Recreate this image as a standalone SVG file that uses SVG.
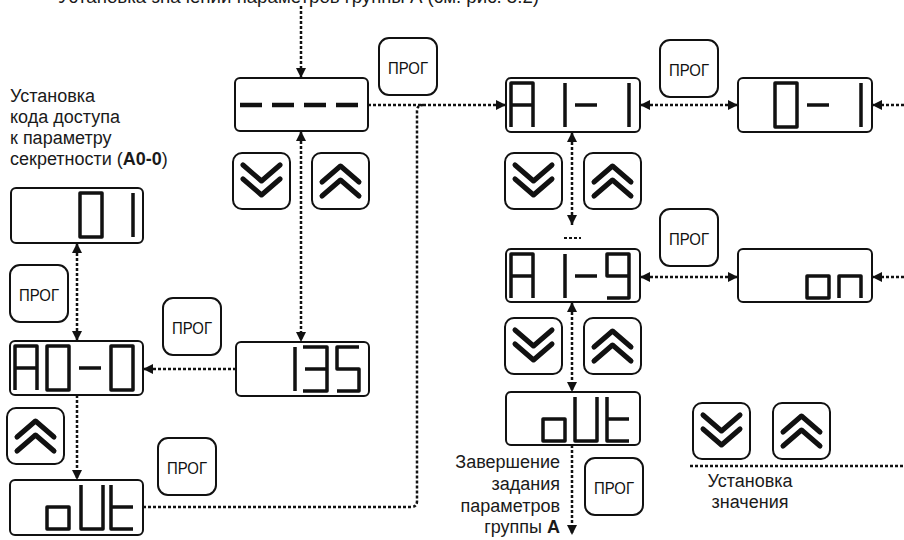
<svg xmlns="http://www.w3.org/2000/svg" xmlns:xlink="http://www.w3.org/1999/xlink" width="904" height="540" viewBox="0 0 904 540">
<style>
.box{fill:#fff;stroke:#111;stroke-width:2}
.btn{fill:#fff;stroke:#111;stroke-width:2}
.seg{fill:none;stroke:#111;stroke-width:3.5;stroke-linejoin:round;stroke-linecap:butt}
.dash{fill:none;stroke:#111;stroke-width:4.5}
.chev{fill:none;stroke:#111;stroke-width:5;stroke-linecap:round;stroke-linejoin:round}
.prog{font-family:"Liberation Sans",Arial,sans-serif;font-size:17px;fill:#111;text-anchor:middle}
.lbl{font-family:"Liberation Sans",Arial,sans-serif;font-size:18px;fill:#1a1a1a}
.con{fill:none;stroke:#111;stroke-width:2.5;stroke-dasharray:3 2}
</style>
<defs>
<marker id="ah" viewBox="0 0 10 10" refX="10" refY="5" markerWidth="12" markerHeight="10" markerUnits="userSpaceOnUse" orient="auto-start-reverse">
<path d="M0,0 L10,5 L0,10 z" fill="#111"/>
</marker>
<g id="bProg">
<rect class="btn" x="0" y="0" width="58" height="57" rx="10"/>
<text class="prog" x="29" y="36" textLength="40" lengthAdjust="spacingAndGlyphs">ПРОГ</text>
</g>
<g id="bDown">
<rect class="btn" x="0" y="0" width="57" height="56" rx="9"/>
<path class="chev" d="M10 12 L28.5 28 L47 12 M10 26 L28.5 42 L47 26"/>
</g>
<g id="bUp">
<rect class="btn" x="0" y="0" width="57" height="56" rx="9"/>
<path class="chev" d="M10 29 L28.5 13 L47 29 M10 43 L28.5 27 L47 43"/>
</g>
</defs>
<rect width="904" height="540" fill="#fff"/>

<text class="lbl" x="58" y="3" textLength="481" lengthAdjust="spacingAndGlyphs">Установка значений параметров группы А (см. рис. 5.2)</text>

<g id="connectors">
<path class="con" d="M301 6 V78" marker-end="url(#ah)"/>
<path class="con" d="M301 131 V342" marker-start="url(#ah)" marker-end="url(#ah)"/>
<path class="con" d="M236 369 H143" marker-end="url(#ah)"/>
<path class="con" d="M77 243 V341" marker-start="url(#ah)" marker-end="url(#ah)"/>
<path class="con" d="M77 395 V480" marker-end="url(#ah)"/>
<path class="con" d="M143 507 H411 Q417 507 417 501 V111 Q417 105 423 105"/>
<path class="con" d="M368 105 H506" marker-end="url(#ah)"/>
<path class="con" d="M640 105 H738" marker-start="url(#ah)" marker-end="url(#ah)"/>
<path class="con" d="M904 105 H872" marker-end="url(#ah)"/>
<path class="con" d="M572 132 V225" marker-start="url(#ah)" marker-end="url(#ah)"/>
<path class="con" d="M564 238 H581" style="stroke-width:2"/>
<path class="con" d="M640 277 H738" marker-start="url(#ah)" marker-end="url(#ah)"/>
<path class="con" d="M904 277 H872" marker-end="url(#ah)"/>
<path class="con" d="M572 302 V392" marker-start="url(#ah)" marker-end="url(#ah)"/>
<path class="con" d="M572 445 V535" marker-end="url(#ah)"/>
<path class="con" d="M690 466 H904"/>
</g>

<g id="lblLeft" class="lbl">
<text x="10" y="102">Установка</text>
<text x="10" y="123">кода доступа</text>
<text x="10" y="144">к параметру</text>
<text x="10" y="165">секретности (<tspan font-weight="bold">A0-0</tspan>)</text>
</g>

<g id="dDash"><rect class="box" x="235" y="78" width="133" height="53" rx="5"/>
<path class="dash" d="M240 105H262M272 105H294M304 105H326M336 105H358"/></g>
<g id="d01"><rect class="box" x="11" y="188" width="132" height="55" rx="5"/>
<path class="seg" d="M80 193H102V237H80Z M133 193V237"/></g>
<g id="dA00"><rect class="box" x="10" y="341" width="133" height="54" rx="5"/>
<path class="seg" d="M15 390V346H37V390M15 368H37 M47 346H69V390H47Z M79 368H101 M111 346H133V390H111Z"/></g>
<g id="d135"><rect class="box" x="236" y="342" width="133" height="54" rx="5"/>
<path class="seg" d="M295 347V391 M303 347H327V391H303M305 369H327 M359 347H337V369H359V391H337"/></g>
<g id="dOut1"><rect class="box" x="10" y="480" width="133" height="55" rx="5"/>
<path class="seg" d="M47 507H69V529H47Z M81 485V529H103V485 M111 485V529H133M111 507H133"/></g>
<g id="dA11"><rect class="box" x="506" y="78" width="134" height="54" rx="5"/>
<path class="seg" d="M511 127V83H533V127M511 105H533 M565 83V127 M575 105H597 M629 83V127"/></g>
<g id="d01b"><rect class="box" x="738" y="78" width="134" height="54" rx="5"/>
<path class="seg" d="M775 83H797V127H775Z M807 105H829 M861 83V127"/></g>
<g id="dA19"><rect class="box" x="506" y="249" width="134" height="53" rx="5"/>
<path class="seg" d="M511 298V254H533V298M511 276H533 M565 254V298 M575 276H597 M629 276H607V254H629V298H607"/></g>
<g id="dOn"><rect class="box" x="738" y="249" width="134" height="53" rx="5"/>
<path class="seg" d="M807 276H829V298H807Z M839 298V276H861V298"/></g>
<g id="dOut2"><rect class="box" x="506" y="392" width="134" height="53" rx="5"/>
<path class="seg" d="M543 419H565V441H543Z M575 397V441H597V397 M607 397V441H629M607 419H629"/></g>

<g id="prog1"><use xlink:href="#bProg" x="379" y="38"/></g>
<g id="down1"><use xlink:href="#bDown" x="233" y="153"/></g>
<g id="up1"><use xlink:href="#bUp" x="312" y="153"/></g>
<g id="prog2"><use xlink:href="#bProg" x="10" y="265"/></g>
<g id="prog3"><use xlink:href="#bProg" x="163" y="298"/></g>
<g id="upLeft"><use xlink:href="#bUp" x="7" y="408"/></g>
<g id="prog4"><use xlink:href="#bProg" x="158" y="438"/></g>
<g id="prog5"><use xlink:href="#bProg" x="660" y="40"/></g>
<g id="down2"><use xlink:href="#bDown" x="505" y="153"/></g>
<g id="up2"><use xlink:href="#bUp" x="584" y="153"/></g>
<g id="prog6"><use xlink:href="#bProg" x="660" y="209"/></g>
<g id="down3"><use xlink:href="#bDown" x="505" y="318"/></g>
<g id="up3"><use xlink:href="#bUp" x="584" y="318"/></g>
<g id="prog7"><use xlink:href="#bProg" x="585" y="458"/></g>
<g id="down4"><use xlink:href="#bDown" x="693" y="403"/></g>
<g id="up4"><use xlink:href="#bUp" x="773" y="403"/></g>

<g id="lblEnd" class="lbl" text-anchor="end">
<text x="560" y="468">Завершение</text>
<text x="560" y="490">задания</text>
<text x="560" y="512">параметров</text>
<text x="560" y="533">группы <tspan font-weight="bold">А</tspan></text>
</g>
<g id="lblValue" class="lbl" text-anchor="middle">
<text x="750" y="487">Установка</text>
<text x="750" y="508">значения</text>
</g>
</svg>
